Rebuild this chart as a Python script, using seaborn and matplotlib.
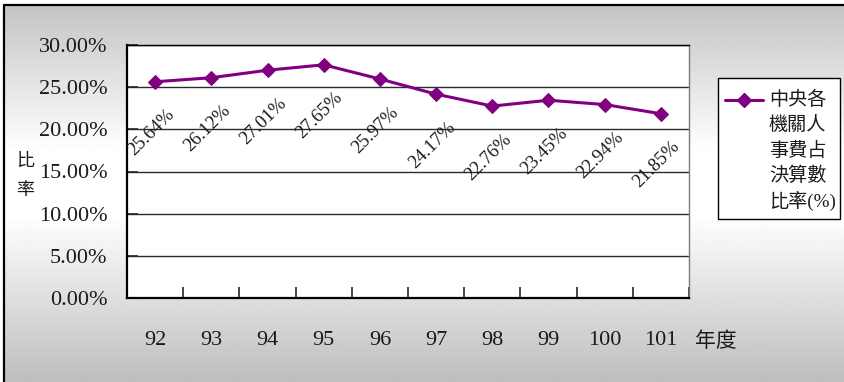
import numpy as np
import pandas as pd
import matplotlib
matplotlib.use("Agg")
import matplotlib.pyplot as plt
import seaborn as sns
from matplotlib.lines import Line2D
from matplotlib.patches import Rectangle
from matplotlib.ticker import FixedLocator

# 年度與中央各機關人事費占決算數比率(%)
years = ["92", "93", "94", "95", "96", "97", "98", "99", "100", "101"]
ratios = [25.64, 26.12, 27.01, 27.65, 25.97, 24.17, 22.76, 23.45, 22.94, 21.85]
y_ticks = [0, 5, 10, 15, 20, 25, 30]
legend_lines = ["中央各", "機關人", "事費占", "決算數", "比率(%)"]
x_title = "年度"
y_title = ["比", "率"]

sns.set_style("white")
plt.rcParams["font.family"] = ["Liberation Serif", "Noto Sans CJK TC"]

W, H = 845, 382
fig = plt.figure(figsize=(W / 100, H / 100), dpi=100, facecolor="white")


def fx(px):
    return px / W


def fy(py):
    return 1 - py / H


# gray-white-gray vertical gradient inside the frame
bg = fig.add_axes([fx(4), 0, 1 - fx(4), fy(5)], zorder=-10)
rows = np.arange(5, H + 1)
gray = np.interp(rows, [5, 150, 215, H], [196, 255, 255, 190]) / 255.0
grad = np.repeat(gray[:, None], 2, axis=1)
bg.imshow(grad, cmap="gray", vmin=0, vmax=1, aspect="auto",
          extent=[0, 1, 0, 1], interpolation="bilinear")
bg.set_axis_off()
fig.add_artist(Line2D([fx(4), fx(4)], [0, fy(5)], color="black", lw=1.6))
fig.add_artist(Line2D([fx(4), 1], [fy(5), fy(5)], color="black", lw=1.6))

# plot area
ax = fig.add_axes([fx(127), fy(298), fx(689) - fx(127), fy(45) - fy(298)])
ax.set_facecolor("white")
df = pd.DataFrame({"year": years, "ratio": ratios})
purple = "#800080"
sns.lineplot(data=df, x="year", y="ratio", ax=ax, color=purple, lw=2.2,
             marker="D", markersize=7.2, markeredgecolor=purple,
             markerfacecolor=purple, legend=False, sort=False, zorder=5)

ax.set_xlim(-0.5, len(years) - 0.5)
ax.set_ylim(0, 30)
ax.set_yticks(y_ticks)
ax.set_yticklabels([f"{t:.2f}%" for t in y_ticks])
ax.set_xticks(range(len(years)))
ax.set_xticklabels(years)
ax.xaxis.set_minor_locator(FixedLocator(np.arange(-0.5, len(years), 1.0)))
ax.set_xlabel("")
ax.set_ylabel("")

ax.yaxis.grid(True, color="#2a2a2a", lw=1.0)
ax.xaxis.grid(False)
ax.set_axisbelow(True)

ax.tick_params(axis="y", direction="in", length=8, width=1.2, pad=14,
               labelsize=16, labelcolor="#1a1a1a", left=True)
ax.tick_params(axis="x", which="major", length=0, pad=24,
               labelsize=16, labelcolor="#1a1a1a")
ax.tick_params(axis="x", which="minor", direction="in", length=8,
               width=1.2, bottom=True)

for side in ["left", "bottom"]:
    ax.spines[side].set_color("black")
    ax.spines[side].set_linewidth(1.6)
ax.spines["top"].set_color("black")
ax.spines["top"].set_linewidth(1.0)
ax.spines["right"].set_color("#7a7a7a")
ax.spines["right"].set_linewidth(1.0)

# value labels, rotated, below each point
for i, v in enumerate(ratios):
    ax.annotate(f"{v:.2f}%", xy=(i, v), xytext=(-4, -51),
                textcoords="offset pixels", ha="center", va="center",
                rotation=45, rotation_mode="anchor", fontsize=13.5,
                color="#1a1a1a", zorder=6)

# axis titles
for k, ch in enumerate(y_title):
    fig.text(fx(25), fy(161 + 29 * k), ch, ha="center", va="center",
             fontsize=13, family="Noto Sans CJK TC", color="#1a1a1a")
fig.text(fx(695), fy(341), x_title, ha="left", va="center",
         fontsize=15, family="Noto Sans CJK TC", color="#1a1a1a")

# legend box
fig.add_artist(Rectangle((fx(718), fy(219)), fx(840) - fx(718),
                         fy(78) - fy(219), transform=fig.transFigure,
                         facecolor="white", edgecolor="black", lw=1.0))
fig.add_artist(Line2D([fx(725), fx(763)], [fy(100), fy(100)], color=purple,
                      lw=2.2))
fig.add_artist(Line2D([fx(744)], [fy(100)], marker="D", markersize=7.2,
                      color=purple, lw=0))
for k, line in enumerate(legend_lines):
    fig.text(fx(769), fy(100 + 25.3 * k), line, ha="left", va="center",
             fontsize=13.8, color="#1a1a1a",
             family=["Liberation Serif", "Noto Sans CJK TC"])

fig.savefig("out.png", dpi=100, facecolor="white")
